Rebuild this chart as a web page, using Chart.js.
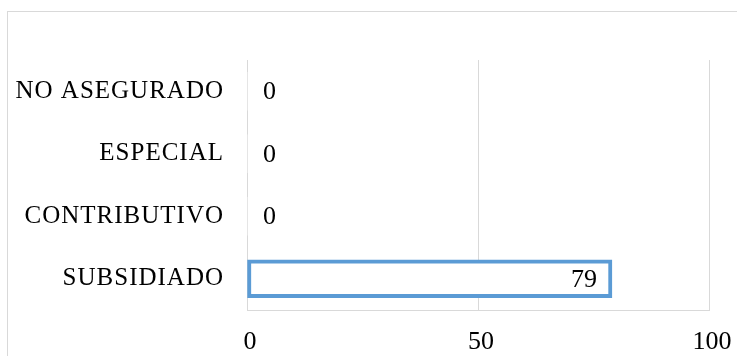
<!DOCTYPE html>
<html>
<head>
<meta charset="utf-8">
<script src="https://cdn.jsdelivr.net/npm/chart.js@4/dist/chart.umd.min.js"></script>
<style>
  html, body { margin: 0; padding: 0; background: #ffffff; }
  #wrap { position: relative; width: 737px; height: 356px; overflow: hidden; }
  #frame {
    position: absolute; left: 7px; top: 11px; width: 760px; height: 400px;
    border-left: 1px solid #d9d9d9; border-top: 1px solid #d9d9d9;
    box-sizing: border-box;
  }
  #chart { position: absolute; left: 0; top: 0; }
</style>
</head>
<body>
<div id="wrap">
  <div id="frame"></div>
  <canvas id="chart" width="737" height="356"></canvas>
</div>
<script>
// Affiliation regimes and their counts
const categories = ['NO ASEGURADO', 'ESPECIAL', 'CONTRIBUTIVO', 'SUBSIDIADO'];
const values = [0, 0, 0, 79];
const axisTicks = [0, 50, 100];

const SERIF = "'Liberation Serif', 'Times New Roman', serif";
const GRID = '#d9d9d9';
const BLUE = '#5b9bd5';

// Slightly spaced category labels on the vertical axis
const spacedLabels = {
  id: 'spacedLabels',
  afterLayout(chart) {
    const s = chart.scales.y;
    if (s && !s._spaced) {
      const orig = s.drawLabels.bind(s);
      s.drawLabels = function (area) {
        const c = this.ctx;
        const prev = c.letterSpacing;
        c.letterSpacing = '1px';
        orig(area);
        c.letterSpacing = prev || '0px';
      };
      s._spaced = true;
    }
  }
};

// Value labels: inside the end of non-zero bars, just past the axis for zeros
const valueLabels = {
  id: 'valueLabels',
  afterDatasetsDraw(chart) {
    const ctx = chart.ctx;
    const meta = chart.getDatasetMeta(0);
    ctx.save();
    ctx.font = '26px ' + SERIF;
    ctx.fillStyle = '#000000';
    ctx.textBaseline = 'middle';
    meta.data.forEach((bar, i) => {
      const v = values[i];
      if (v === 0) {
        ctx.textAlign = 'left';
        ctx.fillText(String(v), bar.x + 16, bar.y + 1);
      } else {
        ctx.textAlign = 'right';
        ctx.fillText(String(v), bar.x - 15, bar.y + 1);
      }
    });
    ctx.restore();
  }
};

new Chart(document.getElementById('chart'), {
  type: 'bar',
  data: {
    labels: categories,
    datasets: [{
      data: values,
      backgroundColor: '#ffffff',
      borderColor: BLUE,
      borderWidth: values.map(v => (v ? 4 : 0)),
      borderSkipped: false,
      barThickness: 38
    }]
  },
  options: {
    indexAxis: 'y',
    responsive: false,
    animation: false,
    events: [],
    layout: { padding: { top: 60, right: 28, left: 0, bottom: 0 } },
    plugins: {
      legend: { display: false },
      title: { display: false },
      tooltip: { enabled: false }
    },
    scales: {
      x: {
        min: axisTicks[0],
        max: axisTicks[axisTicks.length - 1],
        afterBuildTicks(scale) {
          scale.ticks = axisTicks.map(v => ({ value: v }));
        },
        afterFit(scale) {
          scale.height = 46;
          scale.paddingLeft = 0;
          scale.paddingRight = 0;
        },
        grid: { color: GRID, lineWidth: 1, drawTicks: false },
        border: { display: true, color: GRID, width: 1 },
        ticks: {
          color: '#000000',
          font: { family: SERIF, size: 26 },
          padding: 17,
          labelOffset: 3,
          maxRotation: 0,
          autoSkip: false
        }
      },
      y: {
        afterFit(scale) {
          scale.width = 247;
          scale.paddingTop = 0;
          scale.paddingBottom = 0;
        },
        grid: { display: false, drawTicks: false },
        border: { display: false },
        ticks: {
          color: '#000000',
          font: { family: SERIF, size: 25 },
          padding: 23,
          autoSkip: false
        }
      }
    }
  },
  plugins: [spacedLabels, valueLabels]
});
</script>
</body>
</html>
